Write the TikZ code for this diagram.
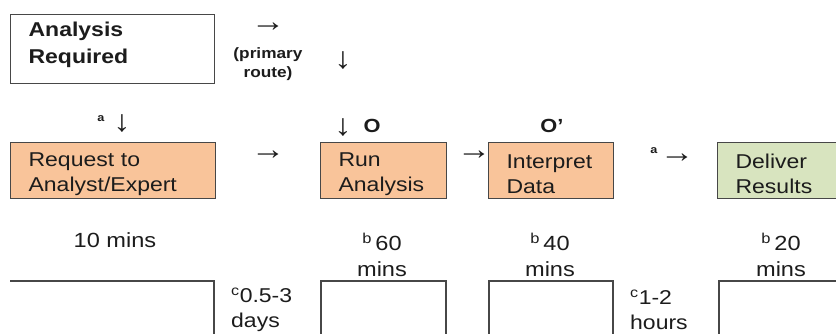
\documentclass[tikz,border=0pt]{standalone}
\usepackage{fontspec}
\setmainfont{Liberation Sans}[FakeStretch=1.15]
\usetikzlibrary{positioning}
\definecolor{reqorange}{HTML}{F9C49A}
\definecolor{delgreen}{HTML}{D8E4BF}
\definecolor{edgegray}{HTML}{474747}
\definecolor{inkgray}{HTML}{1C1C1C}

\begin{document}
\begin{tikzpicture}[x=1pt, y=-1pt, text=inkgray,
    stepbox/.style={draw=edgegray, line width=1.2pt, anchor=north west, minimum height=56pt,
        inner xsep=18pt, inner ysep=0pt, align=left, font=\fontsize{20}{25}\selectfont},
    glyph/.style={inner sep=0pt, font=\fontsize{30}{30}\selectfont},
    timelbl/.style={align=center, inner sep=0pt, font=\fontsize{20.5}{26}\selectfont},
    gaplbl/.style={align=left, anchor=west, inner sep=0pt, font=\fontsize{20}{25}\selectfont},
    tline/.style={draw=edgegray, line width=1.2pt}]
    \clip (0,0) rectangle (836,334);

    % start of the route
    \node[stepbox, fill=white, minimum height=69pt, text width=168pt,
        font=\bfseries\fontsize{20}{26.5}\selectfont] (req) at (10,14) {Analysis\\Required\rule[-13pt]{0pt}{0pt}};
    \node[glyph] (arrTop) at (268,27) {→};
    \node[align=center, inner sep=0pt, font=\bfseries\fontsize{15}{18.5}\selectfont] (primary) at (268,64) {(primary\\route)};
    \node[glyph] (arrPrim) at (343,61) {↓};

    % process steps
    \node[stepbox, fill=reqorange, text width=169pt] (ask) at (10,142) {\rule{0pt}{20pt}Request to\\Analyst/Expert};
    \node[stepbox, fill=reqorange, text width=90pt] (run) at (320,142) {\rule{0pt}{20pt}Run\\Analysis};
    \node[stepbox, fill=reqorange, text width=89pt] (interp) at (488,142) {\rule{0pt}{20pt}Interpret\\Data};
    \node[stepbox, fill=delgreen, text width=100pt] (deliver) at (717,142) {\rule{0pt}{20pt}Deliver\\Results};

    % arrows and marks between steps
    \node[glyph] (arrAsk) at (122,124) {↓};
    \node[inner sep=0pt, font=\bfseries\fontsize{11}{11}\selectfont] (markAsk) at (101,119) {a};
    \node[glyph] (arrMid) at (268,155) {→};
    \node[glyph] (arrRun) at (343,128) {↓};
    \node[inner sep=0pt, font=\bfseries\fontsize{19}{19}\selectfont] (oRun) at (372,126) {O};
    \node[glyph] (arrInt) at (474,155) {→};
    \node[inner sep=0pt, font=\bfseries\fontsize{19}{19}\selectfont] (oInt) at (552,126) {O’};
    \node[glyph] (arrDel) at (677,158) {→};
    \node[inner sep=0pt, font=\bfseries\fontsize{11}{11}\selectfont] (markDel) at (654,151) {a};

    % durations
    \node[timelbl] (tAsk) at (115,240) {10 mins};
    \node[timelbl] (tRun) at (382,255) {\textsuperscript{b}\,60\\mins};
    \node[timelbl] (tInt) at (550,255) {\textsuperscript{b}\,40\\mins};
    \node[timelbl] (tDel) at (781,255) {\textsuperscript{b}\,20\\mins};
    \node[gaplbl] (gapA) at (231,310) {\textsuperscript{c}0.5-3\\days};
    \node[gaplbl] (gapB) at (630,310) {\textsuperscript{c}1-2\\hours};

    % timeline
    \draw[tline] (10,281) -| (214,340);
    \foreach \xa/\xb in {321/446, 489/613}
        \draw[tline] (\xa,340) |- (\xb,281) -- (\xb,340);
    \draw[tline] (719,340) |- (840,281);
\end{tikzpicture}
\end{document}
